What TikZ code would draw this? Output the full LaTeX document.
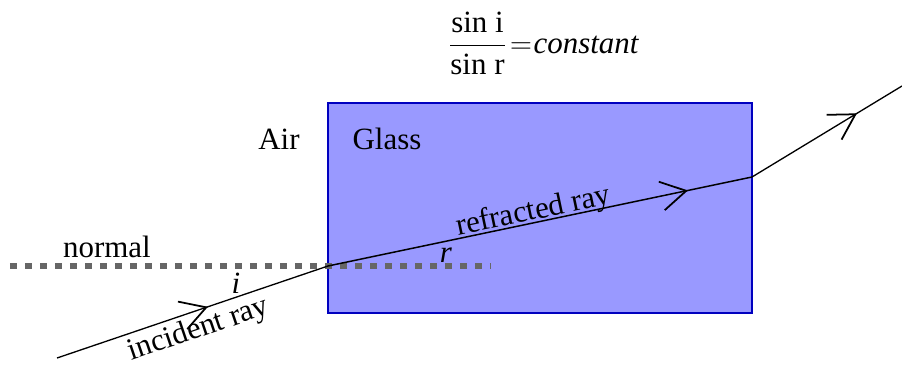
\documentclass[tikz,border=0pt]{standalone}
\usepackage{fontspec}
\setmainfont{Liberation Serif}
\usetikzlibrary{arrows.meta,decorations.markings}

\begin{document}
\begin{tikzpicture}[
    txt/.style={font=\fontsize{17.6}{21}\selectfont, inner sep=0pt},
    ray/.style={line width=0.75pt, postaction={decorate, decoration={markings,
      mark=at position #1 with {\arrow{Straight Barb[length=5mm, width=5.8mm, line width=1pt]}}}}}]
  \useasboundingbox (0,0) rectangle (18.04,7.3);

  % glass block
  \fill[blue!40, draw=blue!75!black, line width=0.6pt] (6.56,1.04) rectangle (15.04,5.24);
  \node[txt, anchor=base] (air)   at (5.58,4.30) {Air};
  \node[txt, anchor=base] (glass) at (7.74,4.30) {Glass};

  % normal at the point of incidence
  \coordinate (nl) at (0.2,1.98);
  \coordinate (nr) at (9.8,1.98);
  \draw[black!60, line width=2.9pt, dash pattern=on 0.15cm off 0.15cm] (nl) -- (nr);
  \node[txt, anchor=base] (normal) at (2.14,2.16) {normal};

  % the ray through the block
  \coordinate (src)  at (1.14,0.14);
  \coordinate (hit)  at (6.56,1.98);
  \coordinate (exit) at (15.04,3.76);
  \coordinate (out)  at (18.04,5.58);
  \draw[ray=0.557] (src) -- (hit)
    node[txt, sloped, pos=0.5, anchor=base, yshift=-0.53cm] (incident) {incident ray};
  \draw[ray=0.849, line width=0.85pt] (hit) -- (exit)
    node[txt, sloped, pos=0.49, anchor=base, yshift=0.06cm] (refracted) {refracted ray};
  \draw[ray=0.70] (exit) -- (out);

  % angles and Snell's law
  \node[txt, anchor=base] (angi) at (4.72,1.44) {\itshape i};
  \node[txt, anchor=base] (angr) at (8.92,2.06) {\itshape r};
  \node[txt, anchor=west] (law) at (8.96,6.43)
    {$\displaystyle\frac{\mbox{sin i}}{\mbox{sin r}}\mkern2mu{=}\mkern1mu\mbox{\itshape constant}$};
\end{tikzpicture}
\end{document}
